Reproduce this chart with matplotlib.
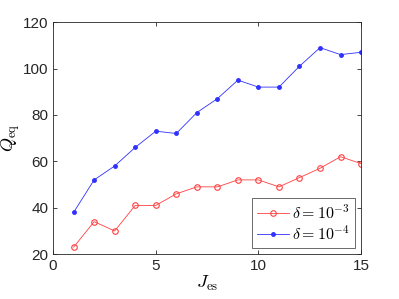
import matplotlib
matplotlib.use("Agg")
import matplotlib.pyplot as plt

plt.rcParams['mathtext.fontset'] = 'cm'
plt.rcParams['font.family'] = ['Liberation Sans', 'DejaVu Sans']

# dados
J_es = [1, 2, 3, 4, 5, 6, 7, 8, 9, 10, 11, 12, 13, 14, 15]
Q_delta3 = [23, 34, 30, 41, 41, 46, 49, 49, 52, 52, 49, 53, 57, 62, 59]
Q_delta4 = [38, 52, 58, 66, 73, 72, 81, 87, 95, 92, 92, 101, 109, 106, 107]

fig = plt.figure(figsize=(3.99, 2.99), dpi=100)
ax = fig.add_axes([0.133, 0.150, 0.772, 0.776])

ax.plot(J_es, Q_delta3, color='#ff4040', lw=0.6, marker='o', ms=4,
        mfc='none', mew=0.8, label=r'$\delta = 10^{-3}$')
ax.plot(J_es, Q_delta4, color='#3030ff', lw=0.6, marker='.', ms=5,
        label=r'$\delta = 10^{-4}$')

ax.set_xlim(0, 15)
ax.set_ylim(20, 120)
ax.set_xticks([0, 5, 10, 15])
ax.set_yticks([20, 40, 60, 80, 100, 120])
ax.tick_params(direction='in', length=3, width=0.6, colors='#262626',
               labelsize=11, top=True, right=True)
for s in ax.spines.values():
    s.set_color('#262626')
    s.set_linewidth(0.6)

ax.set_xlabel(r'$J_{\rm es}$', fontsize=13, labelpad=1)
ax.set_ylabel(r'$Q_{\rm eq}$', fontsize=13)
ax.yaxis.set_label_coords(-0.10, 0.5)

leg = ax.legend(loc='lower right', fontsize=11.5, fancybox=False,
                handlelength=2.0, borderpad=0.3, labelspacing=0.2,
                handletextpad=0.2, borderaxespad=0.4)
leg.get_frame().set_edgecolor('#262626')
leg.get_frame().set_linewidth(0.6)

plt.savefig('out.png', dpi=100)
